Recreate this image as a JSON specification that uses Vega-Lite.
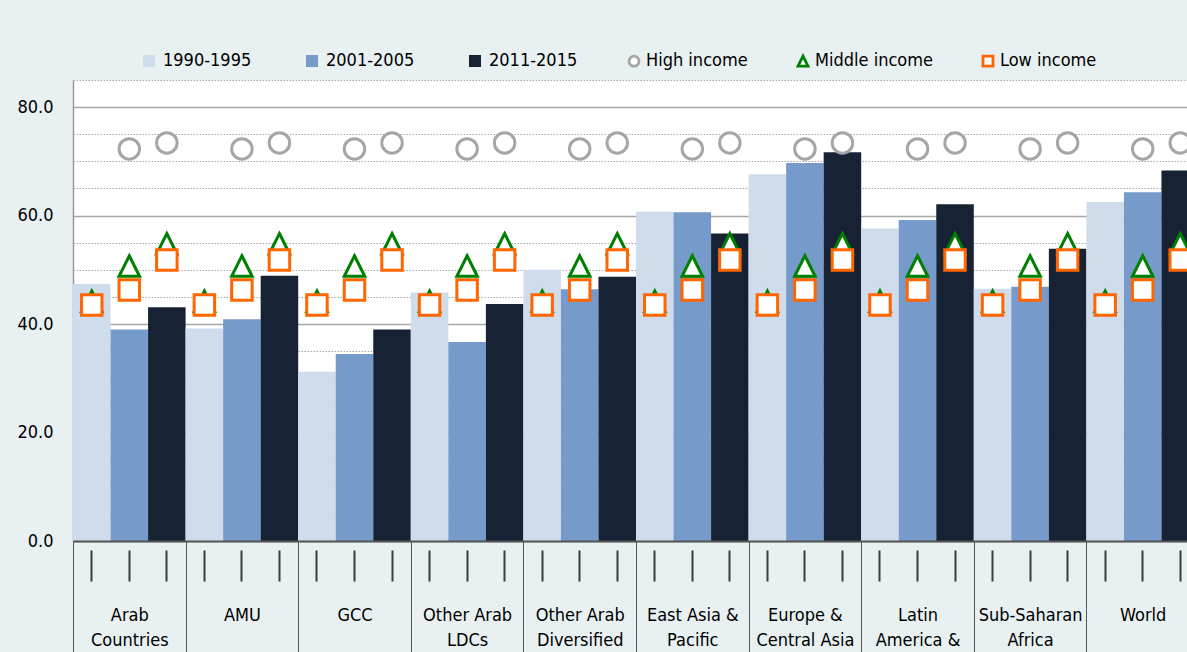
{
  "$schema": "https://vega.github.io/schema/vega-lite/v6.json",
  "autosize": {"type": "none"},
  "width": 1114,
  "height": 461,
  "padding": {"left": 73, "top": 80, "right": 0, "bottom": 111},
  "background": "#e8f0f2",
  "config": {
    "view": {"stroke": null, "fill": "#ffffff"},
    "font": "DejaVu Sans Condensed, Liberation Sans, sans-serif"
  },
  "datasets": {
    "bars": [
      {"region": "Arab Countries", "series": "1990-1995", "slot": "Arab Countries 1990-1995", "value": 47.4},
      {"region": "Arab Countries", "series": "2001-2005", "slot": "Arab Countries 2001-2005", "value": 39.0},
      {"region": "Arab Countries", "series": "2011-2015", "slot": "Arab Countries 2011-2015", "value": 43.1},
      {"region": "AMU", "series": "1990-1995", "slot": "AMU 1990-1995", "value": 39.2},
      {"region": "AMU", "series": "2001-2005", "slot": "AMU 2001-2005", "value": 40.9},
      {"region": "AMU", "series": "2011-2015", "slot": "AMU 2011-2015", "value": 48.9},
      {"region": "GCC", "series": "1990-1995", "slot": "GCC 1990-1995", "value": 31.2},
      {"region": "GCC", "series": "2001-2005", "slot": "GCC 2001-2005", "value": 34.5},
      {"region": "GCC", "series": "2011-2015", "slot": "GCC 2011-2015", "value": 39.0},
      {"region": "Other Arab LDCs", "series": "1990-1995", "slot": "Other Arab LDCs 1990-1995", "value": 45.8},
      {"region": "Other Arab LDCs", "series": "2001-2005", "slot": "Other Arab LDCs 2001-2005", "value": 36.7},
      {"region": "Other Arab LDCs", "series": "2011-2015", "slot": "Other Arab LDCs 2011-2015", "value": 43.7},
      {"region": "Other Arab Diversified", "series": "1990-1995", "slot": "Other Arab Diversified 1990-1995", "value": 50.0},
      {"region": "Other Arab Diversified", "series": "2001-2005", "slot": "Other Arab Diversified 2001-2005", "value": 46.4},
      {"region": "Other Arab Diversified", "series": "2011-2015", "slot": "Other Arab Diversified 2011-2015", "value": 48.7},
      {"region": "East Asia & Pacific", "series": "1990-1995", "slot": "East Asia & Pacific 1990-1995", "value": 60.7},
      {"region": "East Asia & Pacific", "series": "2001-2005", "slot": "East Asia & Pacific 2001-2005", "value": 60.6},
      {"region": "East Asia & Pacific", "series": "2011-2015", "slot": "East Asia & Pacific 2011-2015", "value": 56.7},
      {"region": "Europe & Central Asia", "series": "1990-1995", "slot": "Europe & Central Asia 1990-1995", "value": 67.6},
      {"region": "Europe & Central Asia", "series": "2001-2005", "slot": "Europe & Central Asia 2001-2005", "value": 69.7},
      {"region": "Europe & Central Asia", "series": "2011-2015", "slot": "Europe & Central Asia 2011-2015", "value": 71.7},
      {"region": "Latin America & Caribbean", "series": "1990-1995", "slot": "Latin America & Caribbean 1990-1995", "value": 57.6},
      {"region": "Latin America & Caribbean", "series": "2001-2005", "slot": "Latin America & Caribbean 2001-2005", "value": 59.2},
      {"region": "Latin America & Caribbean", "series": "2011-2015", "slot": "Latin America & Caribbean 2011-2015", "value": 62.1},
      {"region": "Sub-Saharan Africa", "series": "1990-1995", "slot": "Sub-Saharan Africa 1990-1995", "value": 46.5},
      {"region": "Sub-Saharan Africa", "series": "2001-2005", "slot": "Sub-Saharan Africa 2001-2005", "value": 46.9},
      {"region": "Sub-Saharan Africa", "series": "2011-2015", "slot": "Sub-Saharan Africa 2011-2015", "value": 53.9},
      {"region": "World", "series": "1990-1995", "slot": "World 1990-1995", "value": 62.5},
      {"region": "World", "series": "2001-2005", "slot": "World 2001-2005", "value": 64.3},
      {"region": "World", "series": "2011-2015", "slot": "World 2011-2015", "value": 68.3}
    ],
    "points": [
      {"region": "Arab Countries", "period": "2001-2005", "series": "High income", "value": 72.3},
      {"region": "Arab Countries", "period": "2011-2015", "series": "High income", "value": 73.4},
      {"region": "AMU", "period": "2001-2005", "series": "High income", "value": 72.3},
      {"region": "AMU", "period": "2011-2015", "series": "High income", "value": 73.4},
      {"region": "GCC", "period": "2001-2005", "series": "High income", "value": 72.3},
      {"region": "GCC", "period": "2011-2015", "series": "High income", "value": 73.4},
      {"region": "Other Arab LDCs", "period": "2001-2005", "series": "High income", "value": 72.3},
      {"region": "Other Arab LDCs", "period": "2011-2015", "series": "High income", "value": 73.4},
      {"region": "Other Arab Diversified", "period": "2001-2005", "series": "High income", "value": 72.3},
      {"region": "Other Arab Diversified", "period": "2011-2015", "series": "High income", "value": 73.4},
      {"region": "East Asia & Pacific", "period": "2001-2005", "series": "High income", "value": 72.3},
      {"region": "East Asia & Pacific", "period": "2011-2015", "series": "High income", "value": 73.4},
      {"region": "Europe & Central Asia", "period": "2001-2005", "series": "High income", "value": 72.3},
      {"region": "Europe & Central Asia", "period": "2011-2015", "series": "High income", "value": 73.4},
      {"region": "Latin America & Caribbean", "period": "2001-2005", "series": "High income", "value": 72.3},
      {"region": "Latin America & Caribbean", "period": "2011-2015", "series": "High income", "value": 73.4},
      {"region": "Sub-Saharan Africa", "period": "2001-2005", "series": "High income", "value": 72.3},
      {"region": "Sub-Saharan Africa", "period": "2011-2015", "series": "High income", "value": 73.4},
      {"region": "World", "period": "2001-2005", "series": "High income", "value": 72.3},
      {"region": "World", "period": "2011-2015", "series": "High income", "value": 73.4},
      {"region": "Arab Countries", "period": "1990-1995", "series": "Middle income", "value": 44.2},
      {"region": "Arab Countries", "period": "2001-2005", "series": "Middle income", "value": 50.7},
      {"region": "Arab Countries", "period": "2011-2015", "series": "Middle income", "value": 54.8},
      {"region": "AMU", "period": "1990-1995", "series": "Middle income", "value": 44.2},
      {"region": "AMU", "period": "2001-2005", "series": "Middle income", "value": 50.7},
      {"region": "AMU", "period": "2011-2015", "series": "Middle income", "value": 54.8},
      {"region": "GCC", "period": "1990-1995", "series": "Middle income", "value": 44.2},
      {"region": "GCC", "period": "2001-2005", "series": "Middle income", "value": 50.7},
      {"region": "GCC", "period": "2011-2015", "series": "Middle income", "value": 54.8},
      {"region": "Other Arab LDCs", "period": "1990-1995", "series": "Middle income", "value": 44.2},
      {"region": "Other Arab LDCs", "period": "2001-2005", "series": "Middle income", "value": 50.7},
      {"region": "Other Arab LDCs", "period": "2011-2015", "series": "Middle income", "value": 54.8},
      {"region": "Other Arab Diversified", "period": "1990-1995", "series": "Middle income", "value": 44.2},
      {"region": "Other Arab Diversified", "period": "2001-2005", "series": "Middle income", "value": 50.7},
      {"region": "Other Arab Diversified", "period": "2011-2015", "series": "Middle income", "value": 54.8},
      {"region": "East Asia & Pacific", "period": "1990-1995", "series": "Middle income", "value": 44.2},
      {"region": "East Asia & Pacific", "period": "2001-2005", "series": "Middle income", "value": 50.7},
      {"region": "East Asia & Pacific", "period": "2011-2015", "series": "Middle income", "value": 54.8},
      {"region": "Europe & Central Asia", "period": "1990-1995", "series": "Middle income", "value": 44.2},
      {"region": "Europe & Central Asia", "period": "2001-2005", "series": "Middle income", "value": 50.7},
      {"region": "Europe & Central Asia", "period": "2011-2015", "series": "Middle income", "value": 54.8},
      {"region": "Latin America & Caribbean", "period": "1990-1995", "series": "Middle income", "value": 44.2},
      {"region": "Latin America & Caribbean", "period": "2001-2005", "series": "Middle income", "value": 50.7},
      {"region": "Latin America & Caribbean", "period": "2011-2015", "series": "Middle income", "value": 54.8},
      {"region": "Sub-Saharan Africa", "period": "1990-1995", "series": "Middle income", "value": 44.2},
      {"region": "Sub-Saharan Africa", "period": "2001-2005", "series": "Middle income", "value": 50.7},
      {"region": "Sub-Saharan Africa", "period": "2011-2015", "series": "Middle income", "value": 54.8},
      {"region": "World", "period": "1990-1995", "series": "Middle income", "value": 44.2},
      {"region": "World", "period": "2001-2005", "series": "Middle income", "value": 50.7},
      {"region": "World", "period": "2011-2015", "series": "Middle income", "value": 54.8},
      {"region": "Arab Countries", "period": "1990-1995", "series": "Low income", "value": 43.5},
      {"region": "Arab Countries", "period": "2001-2005", "series": "Low income", "value": 46.3},
      {"region": "Arab Countries", "period": "2011-2015", "series": "Low income", "value": 51.8},
      {"region": "AMU", "period": "1990-1995", "series": "Low income", "value": 43.5},
      {"region": "AMU", "period": "2001-2005", "series": "Low income", "value": 46.3},
      {"region": "AMU", "period": "2011-2015", "series": "Low income", "value": 51.8},
      {"region": "GCC", "period": "1990-1995", "series": "Low income", "value": 43.5},
      {"region": "GCC", "period": "2001-2005", "series": "Low income", "value": 46.3},
      {"region": "GCC", "period": "2011-2015", "series": "Low income", "value": 51.8},
      {"region": "Other Arab LDCs", "period": "1990-1995", "series": "Low income", "value": 43.5},
      {"region": "Other Arab LDCs", "period": "2001-2005", "series": "Low income", "value": 46.3},
      {"region": "Other Arab LDCs", "period": "2011-2015", "series": "Low income", "value": 51.8},
      {"region": "Other Arab Diversified", "period": "1990-1995", "series": "Low income", "value": 43.5},
      {"region": "Other Arab Diversified", "period": "2001-2005", "series": "Low income", "value": 46.3},
      {"region": "Other Arab Diversified", "period": "2011-2015", "series": "Low income", "value": 51.8},
      {"region": "East Asia & Pacific", "period": "1990-1995", "series": "Low income", "value": 43.5},
      {"region": "East Asia & Pacific", "period": "2001-2005", "series": "Low income", "value": 46.3},
      {"region": "East Asia & Pacific", "period": "2011-2015", "series": "Low income", "value": 51.8},
      {"region": "Europe & Central Asia", "period": "1990-1995", "series": "Low income", "value": 43.5},
      {"region": "Europe & Central Asia", "period": "2001-2005", "series": "Low income", "value": 46.3},
      {"region": "Europe & Central Asia", "period": "2011-2015", "series": "Low income", "value": 51.8},
      {"region": "Latin America & Caribbean", "period": "1990-1995", "series": "Low income", "value": 43.5},
      {"region": "Latin America & Caribbean", "period": "2001-2005", "series": "Low income", "value": 46.3},
      {"region": "Latin America & Caribbean", "period": "2011-2015", "series": "Low income", "value": 51.8},
      {"region": "Sub-Saharan Africa", "period": "1990-1995", "series": "Low income", "value": 43.5},
      {"region": "Sub-Saharan Africa", "period": "2001-2005", "series": "Low income", "value": 46.3},
      {"region": "Sub-Saharan Africa", "period": "2011-2015", "series": "Low income", "value": 51.8},
      {"region": "World", "period": "1990-1995", "series": "Low income", "value": 43.5},
      {"region": "World", "period": "2001-2005", "series": "Low income", "value": 46.3},
      {"region": "World", "period": "2011-2015", "series": "Low income", "value": 51.8}
    ]
  },
  "layer": [
    {
      "data": {"name": "bars"},
      "mark": {"type": "bar", "width": {"band": 1}},
      "encoding": {
        "x": {
          "field": "slot", "type": "nominal", "sort": null,
          "scale": {"type": "band", "paddingInner": 0, "paddingOuter": 0, "range": [0, 1126]},
          "axis": {"orient": "bottom", "title": null, "labels": false, "domain": false, "grid": false, "ticks": true, "tickSize": 31, "tickWidth": 2, "tickColor": "#3c3c3c", "offset": 9}
        },
        "y": {
          "field": "value", "type": "quantitative",
          "scale": {"domain": [0, 85], "nice": false},
          "axis": {
            "title": null,
            "values": [0, 5, 10, 15, 20, 25, 30, 35, 40, 45, 50, 55, 60, 65, 70, 75, 80, 85],
            "tickCount": 100,
            "labelExpr": "datum.value % 20 == 0 ? format(datum.value, '.1f') : ''",
            "labelOverlap": false,
            "ticks": false, "labelPadding": 20, "labelFontSize": 18, "labelColor": "#000000",
            "labelFont": "DejaVu Sans Condensed, Liberation Sans, sans-serif",
            "labelBaseline": "middle",
            "domain": true, "domainColor": "#999999", "domainWidth": 1.5,
            "grid": true,
            "gridColor": {"condition": {"test": "datum.value % 20 == 0", "value": "#a8a8a8"}, "value": "#a6a6a6"},
            "gridDash": {"condition": {"test": "datum.value % 20 == 0", "value": []}, "value": [1.5, 1.5]},
            "gridWidth": {"condition": {"test": "datum.value % 20 == 0", "value": 1.5}, "value": 1}
          }
        },
        "color": {
          "field": "series", "type": "nominal",
          "scale": {
            "domain": ["1990-1995", "2001-2005", "2011-2015"],
            "range": ["#cfdcec", "#769ac9", "#172335"]
          },
          "legend": {
            "orient": "none", "legendX": 67, "legendY": -28, "direction": "horizontal",
            "title": null, "labelFontSize": 18, "labelColor": "#000000",
            "labelFont": "DejaVu Sans Condensed, Liberation Sans, sans-serif",
            "labelOffset": 5, "columnPadding": 51, "symbolSize": 144, "symbolType": "square",
            "symbolStrokeWidth": 0
          }
        }
      }
    },
    {
      "data": {"name": "points"},
      "mark": {"type": "point", "filled": false, "fill": "#ffffff", "strokeWidth": 3, "size": 420, "opacity": 1},
      "encoding": {
        "x": {
          "field": "region", "type": "nominal", "sort": null,
          "scale": {"type": "band", "paddingInner": 0, "paddingOuter": 0, "range": [0, 1126]},
          "axis": {
            "orient": "bottom", "title": null, "zindex": 1,
            "domain": true, "domainColor": "#555555", "domainWidth": 2,
            "ticks": true, "tickBand": "extent", "tickSize": 120, "tickColor": "#555555", "tickWidth": 1,
            "grid": false, "labelAngle": 0, "labelOverlap": false, "labelLimit": 300,
            "labelPadding": -41, "labelBaseline": "alphabetic", "labelFontSize": 18, "labelColor": "#000000",
            "labelFont": "DejaVu Sans Condensed, Liberation Sans, sans-serif",
            "labelLineHeight": 25,
            "labelExpr": "datum.label == 'Arab Countries' ? ['Arab','Countries'] : datum.label == 'Other Arab LDCs' ? ['Other Arab','LDCs'] : datum.label == 'Other Arab Diversified' ? ['Other Arab','Diversified'] : datum.label == 'East Asia & Pacific' ? ['East Asia &','Pacific'] : datum.label == 'Europe & Central Asia' ? ['Europe &','Central Asia'] : datum.label == 'Latin America & Caribbean' ? ['Latin','America &','Caribbean'] : datum.label == 'Sub-Saharan Africa' ? ['Sub-Saharan','Africa'] : datum.label"
          }
        },
        "xOffset": {"field": "period", "type": "nominal", "scale": {"type": "band", "paddingInner": 0, "paddingOuter": 0}},
        "y": {"field": "value", "type": "quantitative"},
        "stroke": {
          "field": "series", "type": "nominal",
          "scale": {"domain": ["High income", "Middle income", "Low income"], "range": ["#a6a6a6", "#008000", "#ff6600"]},
          "legend": {
            "orient": "none", "legendX": 552, "legendY": -28, "direction": "horizontal",
            "title": null, "labelFontSize": 18, "labelColor": "#000000",
            "labelFont": "DejaVu Sans Condensed, Liberation Sans, sans-serif",
            "labelOffset": 3, "columnPadding": 44, "symbolSize": 100, "symbolStrokeWidth": 2.8,
            "symbolFillColor": "#ffffff"
          }
        },
        "shape": {
          "field": "series", "type": "nominal",
          "scale": {"domain": ["High income", "Middle income", "Low income"], "range": ["circle", "M0,-1L1,1L-1,1Z", "square"]},
          "legend": {
            "orient": "none", "legendX": 552, "legendY": -28, "direction": "horizontal",
            "title": null, "labelFontSize": 18, "labelColor": "#000000",
            "labelFont": "DejaVu Sans Condensed, Liberation Sans, sans-serif",
            "labelOffset": 3, "columnPadding": 44, "symbolSize": 100, "symbolStrokeWidth": 2.8,
            "symbolFillColor": "#ffffff"
          }
        }
      }
    }
  ],
  "resolve": {"scale": {"x": "independent"}, "axis": {"x": "independent"}}
}
